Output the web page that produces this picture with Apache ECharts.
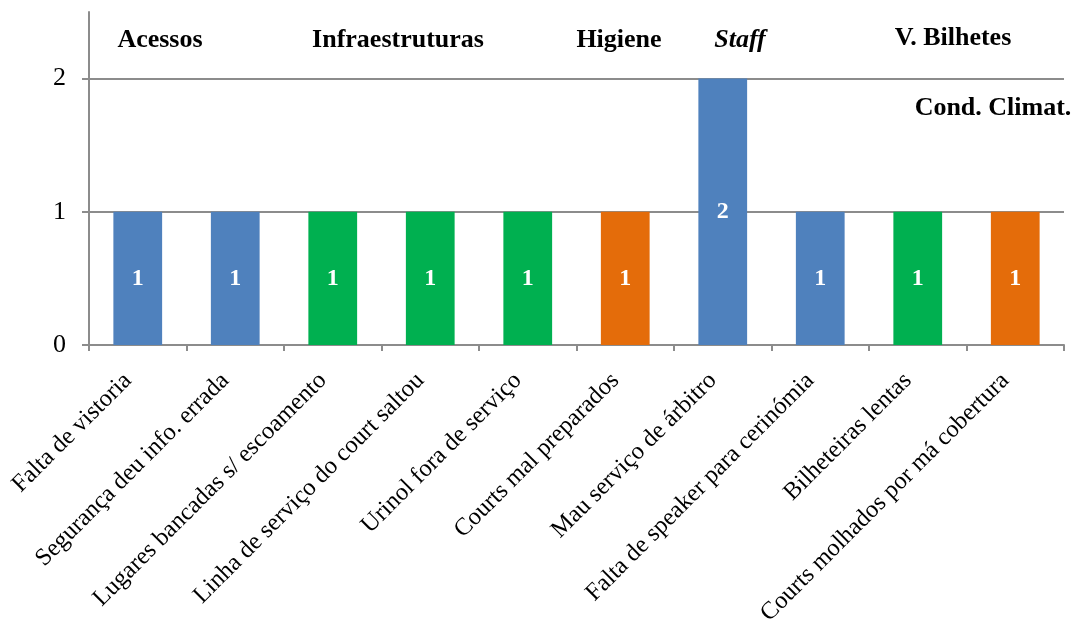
<!DOCTYPE html>
<html>
<head>
<meta charset="utf-8">
<script src="https://cdn.jsdelivr.net/npm/echarts@6/dist/echarts.min.js"></script>
<style>
  html, body { margin: 0; padding: 0; background: #fff; }
  #chart { width: 1073px; height: 631px; }
</style>
</head>
<body>
<div id="chart"></div>
<script>
// Complaint categories, number of occurrences and the group each belongs to
const categories = [
  'Falta de vistoria',
  'Segurança deu info. errada',
  'Lugares bancadas s/ escoamento',
  'Linha de serviço do court saltou',
  'Urinol fora de serviço',
  'Courts mal preparados',
  'Mau serviço de árbitro',
  'Falta de speaker para cerinómia',
  'Bilheteiras lentas',
  'Courts molhados por má cobertura'
];
const counts = [1, 1, 1, 1, 1, 1, 2, 1, 1, 1];
const groupOf = ['blue', 'blue', 'green', 'green', 'green', 'orange', 'blue', 'blue', 'green', 'orange'];
const yTicks = [0, 1, 2];

// Group headings drawn along the top of the plot
const groupNames = ['Acessos', 'Infraestruturas', 'Higiene', 'Staff', 'V. Bilhetes', 'Cond. Climat.'];

const palette = { blue: '#4F81BD', green: '#00B050', orange: '#E46C0A' };
const serif = '"Liberation Serif", "Times New Roman", serif';
const axisGrey = '#8C8C8C';

const chart = echarts.init(document.getElementById('chart'), null, { renderer: 'canvas' });

const headingPos = [
  { x: 160, y: 40, italic: false },
  { x: 398, y: 40, italic: false },
  { x: 619, y: 40, italic: false },
  { x: 740, y: 40, italic: true },
  { x: 953, y: 38, italic: false },
  { x: 993, y: 108, italic: false }
];

const option = {
  animation: false,
  backgroundColor: '#ffffff',
  grid: { left: 89, right: 9, top: 12, bottom: 286, containLabel: false },
  xAxis: {
    type: 'category',
    data: categories,
    axisLine: { show: true, lineStyle: { color: axisGrey, width: 2 } },
    axisTick: { show: true, length: 6, alignWithLabel: false, lineStyle: { color: axisGrey, width: 2 } },
    axisLabel: {
      interval: 0,
      rotate: 45,
      margin: 22,
      padding: [0, 14, 0, 0],
      color: '#000',
      fontFamily: serif,
      fontSize: 24.5
    }
  },
  yAxis: {
    type: 'value',
    min: 0,
    max: 2.5,
    interval: 1,
    axisLine: { show: true, lineStyle: { color: axisGrey, width: 2 } },
    axisTick: { show: true, length: 7, customValues: yTicks, lineStyle: { color: axisGrey, width: 2 } },
    axisLabel: {
      customValues: yTicks,
      margin: 23,
      color: '#000',
      fontFamily: serif,
      fontSize: 26
    },
    splitLine: { show: false }
  },
  series: [
    {
      // horizontal gridlines, kept beneath the bars
      type: 'line',
      data: [],
      z: 0,
      silent: true,
      markLine: {
        z: 0,
        silent: true,
        symbol: 'none',
        label: { show: false },
        lineStyle: { color: axisGrey, width: 2, type: 'solid' },
        data: yTicks.filter(v => v > 0).map(v => ({ yAxis: v }))
      }
    },
    {
      type: 'bar',
      barWidth: '50%',
      data: counts.map((v, i) => ({ value: v, itemStyle: { color: palette[groupOf[i]] } })),
      label: {
        show: true,
        position: 'inside',
        color: '#fff',
        fontFamily: serif,
        fontWeight: 'bold',
        fontSize: 24
      },
      z: 3
    }
  ],
  graphic: groupNames.map((name, i) => ({
    type: 'text',
    x: headingPos[i].x,
    y: headingPos[i].y,
    style: {
      text: name,
      fill: '#000',
      font: (headingPos[i].italic ? 'italic ' : '') + 'bold 26px ' + serif,
      align: 'center',
      verticalAlign: 'middle'
    }
  }))
};

chart.setOption(option);
</script>
</body>
</html>
